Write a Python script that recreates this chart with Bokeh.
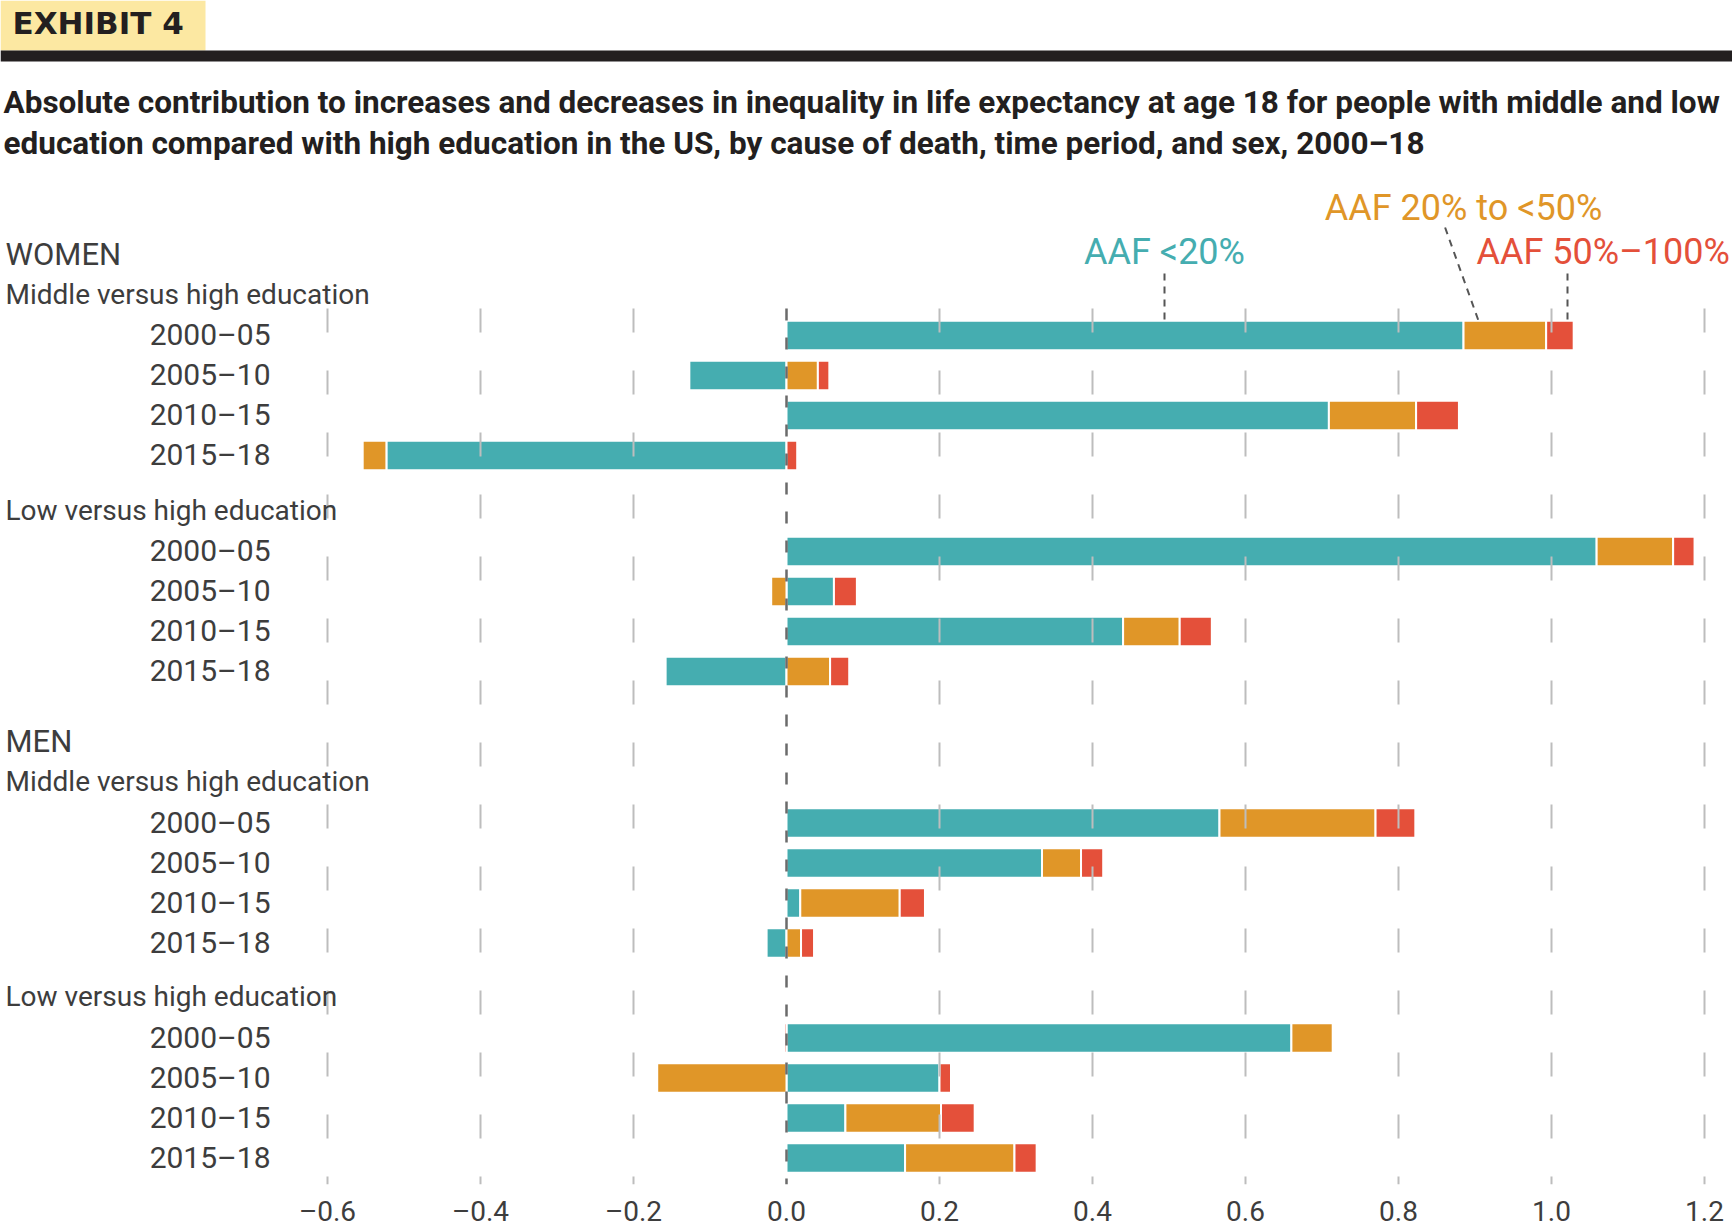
from bokeh.plotting import figure
from bokeh.models import Range1d, FixedTicker, ColumnDataSource
from bokeh.core.properties import value
from bokeh.embed import file_html
from bokeh.resources import INLINE

# ---------------- data ----------------
periods = ["2000–05", "2005–10", "2010–15", "2015–18"]
sexes = ["WOMEN", "WOMEN", "MEN", "MEN"]
comparisons = ["Middle versus high education", "Low versus high education",
               "Middle versus high education", "Low versus high education"]

# one value per (block, period), blocks in order: W-middle, W-low, M-middle, M-low
aaf_lt20 = [0.885, -0.127, 0.709, -0.523,
            1.059, 0.062, 0.440, -0.158,
            0.566, 0.334, 0.018, -0.026,
            0.660, 0.200, 0.077, 0.155]
aaf_20_50 = [0.108, 0.041, 0.114, -0.031,
             0.100, -0.020, 0.074, 0.057,
             0.204, 0.051, 0.130, 0.019,
             0.054, -0.169, 0.125, 0.143]
aaf_50_100 = [0.036, 0.015, 0.056, 0.014,
              0.028, 0.030, 0.042, 0.025,
              0.052, 0.029, 0.033, 0.017,
              -0.003, 0.015, 0.044, 0.029]

series_names = ["AAF <20%", "AAF 20% to <50%", "AAF 50%–100%"]
series_colors = ["#45ADB0", "#E09628", "#E4503A"]

x_ticks = [-0.6, -0.4, -0.2, 0.0, 0.2, 0.4, 0.6, 0.8, 1.0, 1.2]
x_tick_labels = ["–0.6", "–0.4", "–0.2", "0.0", "0.2", "0.4", "0.6", "0.8", "1.0", "1.2"]

title_lines = [
    "Absolute contribution to increases and decreases in inequality in life expectancy at age 18 for people with middle and low",
    "education compared with high education in the US, by cause of death, time period, and sex, 2000–18",
]
exhibit_label = "EXHIBIT 4"

# ---------------- layout (pixels) ----------------
W = 1732
FH = 1184
ZERO_PX = 786.0
PX_PER_UNIT = 765.0


def xv(px):
    return (px - ZERO_PX) / PX_PER_UNIT


def ty(baseline_px, size):
    # text glyph baseline correction (renderer places text slightly lower)
    return baseline_px - 0.37 * size


block_first_y = [335.0, 551.0, 822.5, 1037.5]
row_step = 40.0
bar_h = 29.5
bar_top = block_first_y[0] - bar_h / 2
TEXT = "#3d3d3d"
FONT = value("Roboto")

p = figure(frame_width=W, frame_height=FH,
           x_range=Range1d(xv(0), xv(W)), y_range=Range1d(FH, 0),
           output_backend="svg", toolbar_location=None,
           min_border=0, min_border_left=0, min_border_right=0,
           min_border_top=0, min_border_bottom=0,
           y_axis_location=None, outline_line_color=None,
           background_fill_color="white", border_fill_color="white")
p.grid.visible = False

# ---------- header ----------
p.quad(left=[xv(0)], right=[xv(205)], top=[0], bottom=[50],
       fill_color="#FCE8A2", line_color=None)
p.text(x=[xv(12)], y=[ty(34, 31)], text=[exhibit_label], text_font=value("DejaVu Sans"),
       text_font_style="bold", text_font_size="31px", text_color="#231F20",
       text_baseline="alphabetic")
p.quad(left=[xv(0)], right=[xv(W)], top=[50], bottom=[61],
       fill_color="#231F20", line_color=None)
p.text(x=[xv(3), xv(3)], y=[ty(114, 31.5), ty(155, 31.5)], text=title_lines,
       text_font=FONT, text_font_style="bold",
       text_font_size="31.5px", text_color="#231F20", text_baseline="alphabetic")

# ---------- bars ----------
left, right, ys, cols = [], [], [], []
for i in range(len(aaf_lt20)):
    b, r = divmod(i, len(periods))
    yc = block_first_y[b] + r * row_step
    pos, neg = 0.0, 0.0
    for v, c in zip((aaf_lt20[i], aaf_20_50[i], aaf_50_100[i]), series_colors):
        if v >= 0:
            left.append(pos); right.append(pos + v); pos += v
        else:
            right.append(neg); left.append(neg + v); neg += v
        ys.append(yc); cols.append(c)

src = ColumnDataSource(dict(left=left, right=right, y=ys, color=cols))
p.hbar(y="y", left="left", right="right", height=bar_h, fill_color="color",
       line_color="white", line_width=2, source=src)

# ---------- gridlines (drawn over bars) ----------
grid_x = [t for t in x_ticks if t != 0.0]
p.segment(x0=grid_x, x1=grid_x, y0=[308] * len(grid_x), y1=[FH] * len(grid_x),
          line_color="#BDBDBD", line_width=2, line_dash="24 38")
p.segment(x0=[0.0], x1=[0.0], y0=[308], y1=[FH],
          line_color="#6B6B6B", line_width=2.5, line_dash="12 17")

# ---------- row & group labels ----------
lab_x, lab_y, lab_t = [], [], []
for b in range(len(block_first_y)):
    for r, per in enumerate(periods):
        lab_x.append(xv(270)); lab_y.append(ty(block_first_y[b] + r * row_step + 10.5, 30))
        lab_t.append(per)
p.text(x=lab_x, y=lab_y, text=lab_t, text_font=FONT, text_font_size="30px",
       text_color=TEXT, text_align="right", text_baseline="alphabetic")

sub_y = [ty(block_first_y[b] - 31, 28) for b in range(4)]
p.text(x=[xv(5)] * 4, y=sub_y, text=comparisons, text_font=FONT,
       text_font_size="28px", text_color=TEXT, text_baseline="alphabetic")
sex_idx = [0, 2]
p.text(x=[xv(5)] * 2, y=[ty(block_first_y[b] - 70, 31) for b in sex_idx],
       text=[sexes[b] for b in sex_idx], text_font=FONT, text_font_size="31px",
       text_color=TEXT, text_baseline="alphabetic")

# ---------- legend labels with leaders ----------
p.text(x=[xv(1164)], y=[ty(265, 36)], text=[series_names[0]], text_font=FONT,
       text_font_size="36px", text_color=series_colors[0], text_align="center",
       text_baseline="alphabetic")
p.text(x=[xv(1463)], y=[ty(221, 36)], text=[series_names[1]], text_font=FONT,
       text_font_size="36px", text_color=series_colors[1], text_align="center",
       text_baseline="alphabetic")
p.text(x=[xv(1476)], y=[ty(265, 36)], text=[series_names[2]], text_font=FONT,
       text_font_size="36px", text_color=series_colors[2], text_align="left",
       text_baseline="alphabetic")
p.segment(x0=[xv(1164), xv(1444.6), xv(1567)], y0=[273, 227, 273],
          x1=[xv(1164), xv(1478), xv(1567)], y1=[bar_top] * 3,
          line_color="#555555", line_width=2, line_dash="7 6")

# ---------- x axis ----------
ax = p.xaxis[0]
ax.ticker = FixedTicker(ticks=x_ticks)
ax.major_label_overrides = {t: l for t, l in zip(x_ticks, x_tick_labels)}
ax.axis_line_color = None
ax.major_tick_line_color = None
ax.minor_tick_line_color = None
ax.major_label_standoff = 4
ax.major_label_text_font = "Roboto"
ax.major_label_text_font_size = "28px"
ax.major_label_text_color = TEXT

open("out.html", "w").write(file_html(p, INLINE))
